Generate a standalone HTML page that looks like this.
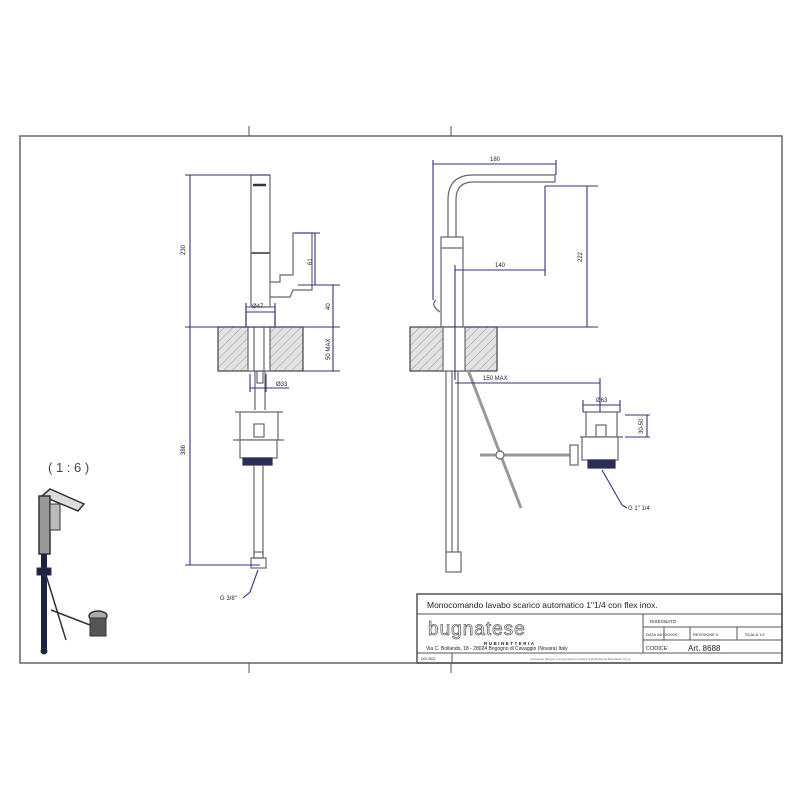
<!DOCTYPE html>
<html><head><meta charset="utf-8"><style>
html,body{margin:0;padding:0;background:#fff;width:800px;height:800px;overflow:hidden}
svg{display:block}
text{font-family:"Liberation Sans",sans-serif;fill:#223}
</style></head><body>
<svg width="800" height="800" viewBox="0 0 800 800" xmlns="http://www.w3.org/2000/svg">
<defs>
<pattern id="h" width="6" height="6" patternUnits="userSpaceOnUse" patternTransform="rotate(45)">
<rect width="6" height="6" fill="#e2e2e2"/><line x1="0" y1="0" x2="0" y2="6" stroke="#999" stroke-width="1"/>
</pattern>
</defs>
<rect x="20" y="136" width="762" height="527" fill="none" stroke="#666" stroke-width="1.5"/>
<g stroke="#555" stroke-width="1">
<line x1="249" y1="126" x2="249" y2="136"/><line x1="451" y1="126" x2="451" y2="136"/>
<line x1="249" y1="663" x2="249" y2="673"/><line x1="451" y1="663" x2="451" y2="673"/>
</g>

<g stroke="#666670" stroke-width="1.2" fill="none">
<rect x="218" y="327" width="85" height="44" fill="url(#h)" stroke="#444"/>
<rect x="248" y="327" width="22" height="44" fill="#fff"/>
<line x1="254" y1="327" x2="254" y2="371"/><line x1="264" y1="327" x2="264" y2="371"/>
<rect x="251" y="175" width="19" height="132" fill="#fff"/>
<line x1="251" y1="253" x2="270" y2="253" stroke-width="2"/>
<line x1="253" y1="185" x2="266" y2="185" stroke="#334" stroke-width="2.5"/>
<rect x="246" y="307" width="29" height="20" fill="#fff"/>
<path d="M270 282 L280 282 L280 275 L293 275 L293 233 L312 233 L312 290 L293 290 L290 297 L270 297"/>
<line x1="255" y1="371" x2="255" y2="410"/><line x1="265" y1="371" x2="265" y2="410"/>
<rect x="257" y="371" width="6" height="12" />
<path d="M235 412 L283 412 M240 412 L240 440 M278 412 L278 440 M233 440 L284 440"/>
<rect x="254" y="424" width="10" height="13"/>
<rect x="240" y="440" width="37" height="18" fill="#fff"/>
<rect x="243" y="458" width="29" height="7" fill="#2a2d55" stroke="#2a2d55"/>
<line x1="254" y1="465" x2="254" y2="555"/><line x1="263" y1="465" x2="263" y2="555"/>
<rect x="254" y="552" width="9" height="6"/>
<rect x="251" y="558" width="15" height="10"/>
</g>
<g stroke="#33337a" stroke-width="1.1" fill="none">
<line x1="190" y1="175" x2="190" y2="565"/>
<line x1="185" y1="175" x2="270" y2="175"/>
<line x1="185" y1="327" x2="340" y2="327"/>
<line x1="185" y1="565" x2="260" y2="565"/>
<line x1="315" y1="233" x2="315" y2="285"/><line x1="295" y1="233" x2="320" y2="233"/>
<line x1="298" y1="285" x2="340" y2="285"/>
<line x1="333" y1="285" x2="333" y2="371"/>
<line x1="303" y1="371" x2="340" y2="371"/>
<line x1="246" y1="303" x2="246" y2="327"/><line x1="275" y1="303" x2="275" y2="327"/>
<line x1="246" y1="312" x2="275" y2="312"/>
<line x1="250" y1="374" x2="250" y2="392"/><line x1="266" y1="374" x2="266" y2="392"/>
<line x1="250" y1="388" x2="289" y2="388"/>
<path d="M258 570 L250 592 L243 598"/>
</g>
<g font-size="6">
<text x="185" y="255" transform="rotate(-90 185 255)">230</text>
<text x="185" y="455" transform="rotate(-90 185 455)">386</text>
<text x="312" y="265" transform="rotate(-90 312 265)">61</text>
<text x="330" y="310" transform="rotate(-90 330 310)">40</text>
<text x="330" y="360" transform="rotate(-90 330 360)">50 MAX</text>
<text x="252" y="308">Ø47</text>
<text x="276" y="386">Ø33</text>
<text x="220" y="600">G 3/8"</text>
</g>

<g stroke="#666670" stroke-width="1.2" fill="none">
<rect x="410" y="327" width="87" height="44" fill="url(#h)" stroke="#444"/>
<rect x="443" y="327" width="22" height="44" fill="#fff"/>
<path d="M448 237 L448 200 Q448 175 473 175 L555 175 L555 182 L473 182 Q456 182 456 200 L456 237"/>
<path d="M441 237 L463 237 L463 327 L441 327 Z M441 248 L463 248"/>
<path d="M436 300 Q430 305 440 312"/>
<line x1="446" y1="371" x2="446" y2="552"/><line x1="452" y1="371" x2="452" y2="552"/><line x1="458" y1="371" x2="458" y2="552"/>
<rect x="446" y="552" width="15" height="20"/>
<line x1="468" y1="370" x2="521" y2="508" stroke-width="3" stroke="#999"/>
<line x1="480" y1="455" x2="572" y2="455" stroke-width="3" stroke="#999"/>
<circle cx="500" cy="455" r="4" fill="#fff"/>
<rect x="570" y="445" width="8" height="20" fill="#fff"/>
<path d="M583 412 L620 412 M586 412 L586 437 M617 412 L617 437 M580 437 L623 437"/>
<rect x="596" y="425" width="10" height="12"/>
<rect x="582" y="437" width="36" height="23" fill="#fff"/>
<rect x="588" y="460" width="27" height="8" fill="#2a2d55" stroke="#2a2d55"/>
</g>
<g stroke="#33337a" stroke-width="1.1" fill="none">
<line x1="433" y1="160" x2="433" y2="300"/><line x1="556" y1="160" x2="556" y2="175"/>
<line x1="433" y1="164" x2="556" y2="164"/>
<line x1="545" y1="186" x2="598" y2="186"/>
<line x1="465" y1="327" x2="598" y2="327"/>
<line x1="587" y1="186" x2="587" y2="327"/>
<line x1="545" y1="186" x2="545" y2="276"/>
<line x1="455" y1="270" x2="545" y2="270"/>
<line x1="455" y1="265" x2="455" y2="380"/>
<line x1="455" y1="383" x2="600" y2="383"/><line x1="600" y1="378" x2="600" y2="412"/>
<line x1="583" y1="400" x2="583" y2="412"/><line x1="620" y1="400" x2="620" y2="412"/>
<line x1="583" y1="405" x2="620" y2="405"/>
<line x1="625" y1="415" x2="650" y2="415"/><line x1="625" y1="437" x2="650" y2="437"/>
<line x1="647" y1="415" x2="647" y2="437"/>
<path d="M602 470 L622 505 L627 508"/>
</g>
<g font-size="6">
<text x="490" y="161">180</text>
<text x="582" y="262" transform="rotate(-90 582 262)">222</text>
<text x="495" y="267">140</text>
<text x="483" y="380">150 MAX</text>
<text x="596" y="402">Ø63</text>
<text x="643" y="434" transform="rotate(-90 643 434)">30-50</text>
<text x="628" y="510">G 1" 1/4</text>
</g>

<text x="48" y="472" font-size="13" style="fill:#444">( 1 : 6 )</text>
<g stroke="#333" fill="none">
<path d="M42 496 L50 489 L84 504 L78 511 Z" fill="#ddd" stroke-width="1.5"/>
<rect x="39" y="496" width="11" height="58" fill="#999" stroke-width="1.5"/>
<rect x="50" y="504" width="10" height="26" fill="#bbb"/>
<line x1="44" y1="554" x2="44" y2="650" stroke="#1e2044" stroke-width="6"/>
<rect x="37" y="568" width="14" height="7" fill="#1e2044"/>
<line x1="46" y1="575" x2="66" y2="640" stroke-width="1.5"/>
<line x1="51" y1="610" x2="90" y2="625" stroke-width="1.5"/>
<ellipse cx="98" cy="616" rx="9" ry="5" fill="#aaa" stroke-width="1.5"/>
<rect x="90" y="618" width="16" height="18" fill="#555"/>
<circle cx="44" cy="651" r="3" fill="#1e2044"/>
</g>

<g stroke="#555" stroke-width="1" fill="none">
<rect x="417" y="594" width="365" height="69" stroke-width="1.5"/>
<line x1="417" y1="614" x2="782" y2="614"/>
<line x1="643" y1="614" x2="643" y2="653"/>
<line x1="643" y1="627" x2="782" y2="627"/>
<line x1="643" y1="640" x2="782" y2="640"/>
<line x1="417" y1="653" x2="782" y2="653"/>
<line x1="664" y1="627" x2="664" y2="640"/><line x1="690" y1="627" x2="690" y2="640"/><line x1="737" y1="627" x2="737" y2="640"/>
<line x1="452" y1="653" x2="452" y2="663"/>
</g>
<text x="427" y="608" font-size="8.5">Monocomando lavabo scarico automatico 1"1/4 con flex inox.</text>
<text x="428" y="635" font-size="19" style="fill:#fff;stroke:#666;stroke-width:0.8" letter-spacing="1">bugnatese</text>
<text x="484" y="645" font-size="4.5" font-weight="bold" letter-spacing="1.5">RUBINETTERIA</text>
<text x="426" y="650" font-size="5">Via C. Bollando, 18 - 28024 Bogogno di Cavaggio (Novara) Italy</text>
<text x="650" y="623" font-size="4.5">DISEGNATO</text>
<text x="646" y="636" font-size="4">DATA 26/10/2009</text>
<text x="693" y="636" font-size="4">REVISIONE 0</text>
<text x="745" y="636" font-size="4">SCALA 1:5</text>
<text x="646" y="650" font-size="5.5">CODICE</text>
<text x="688" y="651" font-size="8">Art. 8688</text>
<text x="421" y="660" font-size="3.5">DIS.3822</text>
<text x="530" y="660" font-size="3" style="fill:#666">Il presente disegno è di proprietà esclusiva di Rubinetteria Bugnatese S.p.A.</text>
</svg>
</body></html>
